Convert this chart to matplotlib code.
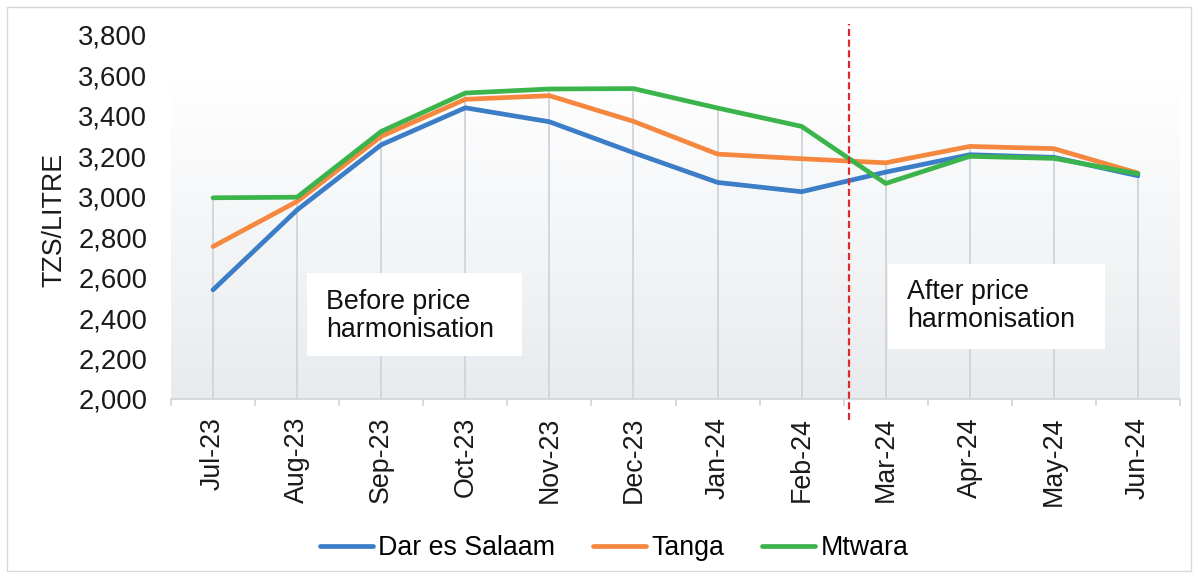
import matplotlib
matplotlib.use("Agg")
import matplotlib.pyplot as plt
import numpy as np
from matplotlib.patches import Rectangle
from matplotlib.transforms import blended_transform_factory

plt.rcParams['font.family'] = ['Liberation Sans', 'DejaVu Sans']

months = ["Jul-23", "Aug-23", "Sep-23", "Oct-23", "Nov-23", "Dec-23",
          "Jan-24", "Feb-24", "Mar-24", "Apr-24", "May-24", "Jun-24"]
dar_es_salaam = [2540, 2935, 3257, 3440, 3371, 3218, 3071, 3025, 3122, 3208, 3195, 3104]
tanga = [2754, 2977, 3299, 3482, 3500, 3373, 3211, 3188, 3168, 3249, 3238, 3117]
mtwara = [2995, 2998, 3323, 3513, 3533, 3535, 3439, 3348, 3066, 3200, 3190, 3114]
y_ticks = [2000, 2200, 2400, 2600, 2800, 3000, 3200, 3400, 3600, 3800]
divider_position = 7.56

W, H = 1198, 578
fig = plt.figure(figsize=(W / 100, H / 100), dpi=100)

def fx(px):
    return px / W

def fy(py):
    return 1 - py / H

ax_left, ax_right, ax_top, ax_bottom = 171, 1180, 35, 399
ax = fig.add_axes([fx(ax_left), fy(ax_bottom), fx(ax_right - ax_left), (ax_bottom - ax_top) / H])

# outer border
fig.patches.append(Rectangle((fx(7), fy(571)), fx(1184), (571 - 7) / H,
                             transform=fig.transFigure, fill=False,
                             edgecolor="#d9d9d9", linewidth=1.0))

x = np.arange(len(months))
ax.set_xlim(-0.5, len(months) - 0.5)
ax.set_ylim(y_ticks[0], y_ticks[-1])

# gradient plot-area background
grad_top = (ax_bottom - 77) / (ax_bottom - ax_top)
grad = np.linspace(0, 1, 256).reshape(-1, 1)
top_c = np.array([1.0, 1.0, 1.0])
bot_c = np.array([0xe8, 0xeb, 0xee]) / 255
img = bot_c + (top_c - bot_c) * grad
ax.imshow(img.reshape(256, 1, 3), extent=[0, 1, 0, grad_top], transform=ax.transAxes,
          aspect="auto", origin="lower", zorder=0)

# drop lines
series = [dar_es_salaam, tanga, mtwara]
tops = np.max(np.array(series), axis=0)
ax.vlines(x, y_ticks[0], tops, colors="#cfd4da", linewidth=1.3, zorder=1)

colors = ["#3b7dc6", "#f5873f", "#3bb44b"]
names = ["Dar es Salaam", "Tanga", "Mtwara"]
lines = []
for s, c, n in zip(series, colors, names):
    ln, = ax.plot(x, s, color=c, linewidth=3.4, label=n, zorder=3,
                  solid_capstyle="round", solid_joinstyle="round")
    lines.append(ln)

# divider
trans = blended_transform_factory(ax.transData, ax.transAxes)
ax.plot([divider_position, divider_position],
        [(ax_bottom - 420) / (ax_bottom - ax_top), (ax_bottom - 24) / (ax_bottom - ax_top)],
        transform=trans, color="#e0282a", linestyle=(0, (3.2, 1.6)), linewidth=1.6,
        clip_on=False, zorder=4)

FS = 19.3

# axes styling
for sp in ["top", "right", "left"]:
    ax.spines[sp].set_visible(False)
ax.spines["bottom"].set_color("#d0d3d6")
ax.spines["bottom"].set_linewidth(1.2)
ax.set_yticks(y_ticks)
ax.set_yticklabels([f"{v:,}" for v in y_ticks])
ax.set_xticks(x)
ax.set_xticklabels(months, rotation=90)
ax.set_xticks(np.arange(-0.5, len(months)), minor=True)
ax.tick_params(axis="y", length=0, pad=17, labelsize=19.8, labelcolor="#1a1a1a")
ax.tick_params(axis="x", which="major", length=0, pad=13, labelsize=FS, labelcolor="#1a1a1a")
ax.tick_params(axis="x", which="minor", length=5, width=1.2, color="#d0d3d6")
ax.set_facecolor("white")

fig.text(fx(54), fy(220), "TZS/LITRE", rotation=90, ha="center", va="center",
         fontsize=FS, color="#1a1a1a")

# annotation boxes
def box(x0, y0, x1, y1, text, tx, ty):
    fig.patches.append(Rectangle((fx(x0), fy(y1)), fx(x1 - x0), (y1 - y0) / H,
                                 transform=fig.transFigure, facecolor="white",
                                 edgecolor="none", zorder=5))
    fig.text(fx(tx), fy(ty), text, ha="left", va="center", fontsize=FS,
             color="#111111", linespacing=1.1, zorder=6)

box(307, 273, 522, 356, "Before price\nharmonisation", 326, 316)
box(888, 264, 1105, 349, "After price\nharmonisation", 907, 306)

fig.legend(handles=lines, loc="center", bbox_to_anchor=(fx(614), fy(548)), ncol=3,
           frameon=False, fontsize=FS, handlelength=1.98, handletextpad=0.19,
           columnspacing=1.42, borderaxespad=0)

fig.savefig("out.png", dpi=100)
